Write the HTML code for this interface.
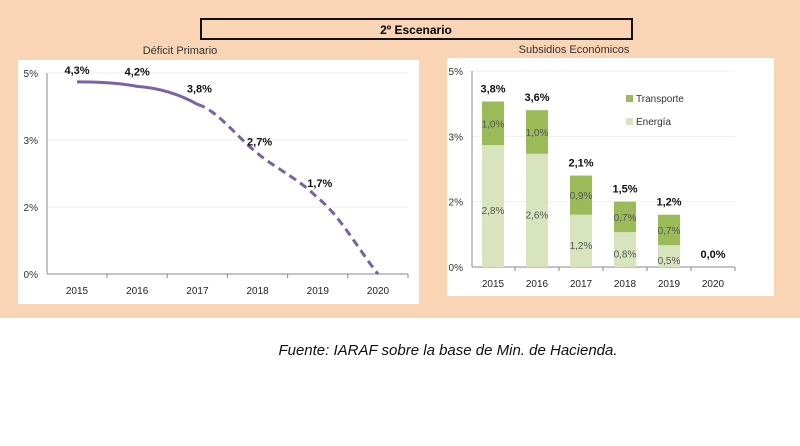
<!DOCTYPE html>
<html><head><meta charset="utf-8"><style>
body{margin:0;background:#fff;width:800px;height:441px;overflow:hidden;font-family:"Liberation Sans",sans-serif}
</style></head><body>
<svg width="800" height="441" xmlns="http://www.w3.org/2000/svg" font-family="Liberation Sans, sans-serif">
<rect x="0" y="0" width="800" height="318" fill="#f9d5b6"/>
<rect x="201" y="19" width="431" height="20" fill="none" stroke="#111" stroke-width="2"/>
<text x="416" y="34" font-size="12" font-weight="bold" text-anchor="middle">2º Escenario</text>
<text x="180" y="54" font-size="11" fill="#333" text-anchor="middle">Déficit Primario</text>
<text x="574" y="53" font-size="11" fill="#333" text-anchor="middle">Subsidios Económicos</text>
<rect x="18" y="60" width="401" height="244" fill="#fff"/>
<rect x="447" y="58" width="327" height="238" fill="#fff"/>
<g id="left"></g><g id="right"></g>
<text x="448" y="355" font-size="15" font-style="italic" fill="#111" text-anchor="middle">Fuente: IARAF sobre la base de Min. de Hacienda.</text>
</svg>
<script>
const years=["2015","2016","2017","2018","2019","2020"];
const deficit=[4.3,4.2,3.8,2.7,1.7,0.0];
const deficitLabels=["4,3%","4,2%","3,8%","2,7%","1,7%",""];
const leftTickVals=[0,1.5,3,4.5];
const leftTickLabels=["0%","2%","3%","5%"];
const energia=[2.8,2.6,1.2,0.8,0.5,0];
const transporte=[1.0,1.0,0.9,0.7,0.7,0];
const energiaLabels=["2,8%","2,6%","1,2%","0,8%","0,5%",""];
const transporteLabels=["1,0%","1,0%","0,9%","0,7%","0,7%",""];
const totalLabels=["3,8%","3,6%","2,1%","1,5%","1,2%","0,0%"];
const rightTickVals=[0,1.5,3,4.5];
const rightTickLabels=["0%","2%","3%","5%"];
const NS="http://www.w3.org/2000/svg";
function mk(p,t,a,txt){const e=document.createElementNS(NS,t);for(const k in a)e.setAttribute(k,a[k]);if(txt!==undefined)e.textContent=txt;p.appendChild(e);return e;}
// left
const L=document.getElementById('left');
const lx=i=>77+i*60.2, ly=v=>274-v*(201/4.5);
leftTickVals.forEach((v,i)=>{
 const g=mk(L,'line',{x1:47,x2:408,y1:ly(v),y2:ly(v),stroke:i?'#eee':'#888'});
 
 const t=mk(L,'text',{x:38,y:ly(v)+4,'font-size':10,'text-anchor':'end',fill:'#333'},leftTickLabels[i]);
 
});
const la=mk(L,'line',{x1:47,x2:47,y1:73,y2:274,stroke:'#888'});

years.forEach((y,i)=>{
 const t=mk(L,'text',{x:lx(i),y:294,'font-size':10,'text-anchor':'middle',fill:'#222'},y);
 
 const tk=mk(L,'line',{x1:lx(i)+30,x2:lx(i)+30,y1:274,y2:278,stroke:'#888'});
 
});
function seg(a,b){const x0=lx(a),x1=lx(b),y0=ly(deficit[a]),y1=ly(deficit[b]);return `C${x0+(x1-x0)/3},${y0+(a>0?(y0-ly(deficit[a-1]))/3:0)} ${x1-(x1-x0)/3},${y1-(b<5?(ly(deficit[b+1])-y0)/6:(y1-y0)/3)} ${x1},${y1}`;}
const solid=mk(L,'path',{d:`M${lx(0)},${ly(deficit[0])} `+seg(0,1)+seg(1,2),fill:'none',stroke:'#7b62a3','stroke-width':3});

const dash=mk(L,'path',{d:`M${lx(2)},${ly(deficit[2])} `+seg(2,3)+seg(3,4)+seg(4,5),fill:'none',stroke:'#7b62a3','stroke-width':3,'stroke-dasharray':'8,5'});

const labelOff=[-8,-11,-12,-8,-11];
deficit.forEach((v,i)=>{if(!deficitLabels[i])return;
 const t=mk(L,'text',{x:lx(i)+(i>=2?2:0),y:ly(v)+labelOff[i],'font-size':11,'font-weight':'bold','text-anchor':'middle',fill:'#111'},deficitLabels[i]);
 
});
// right
const R=document.getElementById('right');
const rx=i=>493+i*44, ry=v=>267-v*(196/4.5);
rightTickVals.forEach((v,i)=>{
 const g=mk(R,'line',{x1:472,x2:735,y1:ry(v),y2:ry(v),stroke:i?'#eee':'#888'});
 
 const t=mk(R,'text',{x:463,y:ry(v)+4,'font-size':10,'text-anchor':'end',fill:'#333'},rightTickLabels[i]);
 
});
const ra=mk(R,'line',{x1:472,x2:472,y1:71,y2:267,stroke:'#888'});

years.forEach((y,i)=>{
 const t=mk(R,'text',{x:rx(i),y:287,'font-size':10,'text-anchor':'middle',fill:'#222'},y);
 
 const tk=mk(R,'line',{x1:rx(i)+22,x2:rx(i)+22,y1:267,y2:271,stroke:'#888'});
 
 const e=energia[i],tr=transporte[i];
 if(e>0){const b=mk(R,'rect',{x:rx(i)-11,y:ry(e),width:22,height:ry(0)-ry(e),fill:'#d7e4bd'});
  
  const l=mk(R,'text',{x:rx(i),y:(ry(e)+ry(0))/2+8,'font-size':10,'text-anchor':'middle',fill:'#555'},energiaLabels[i]);
  }
 if(tr>0){const b=mk(R,'rect',{x:rx(i)-11,y:ry(e+tr),width:22,height:ry(e)-ry(e+tr),fill:'#9bbb59'});
  
  const l=mk(R,'text',{x:rx(i),y:(ry(e)+ry(e+tr))/2+4,'font-size':10,'text-anchor':'middle',fill:'#555'},transporteLabels[i]);
  }
 const tl=mk(R,'text',{x:rx(i),y:ry(e+tr)-9,'font-size':11,'font-weight':'bold','text-anchor':'middle',fill:'#111'},totalLabels[i]);
 
});
[["Transporte","#9bbb59",99],["Energía","#d7e4bd",122]].forEach(d=>{
 const s=mk(R,'rect',{x:626,y:d[2]-4,width:7,height:7,fill:d[1]});
 
 const t=mk(R,'text',{x:636,y:d[2]+3,'font-size':10,fill:'#333'},d[0]);
 
});
</script>
</body></html>
